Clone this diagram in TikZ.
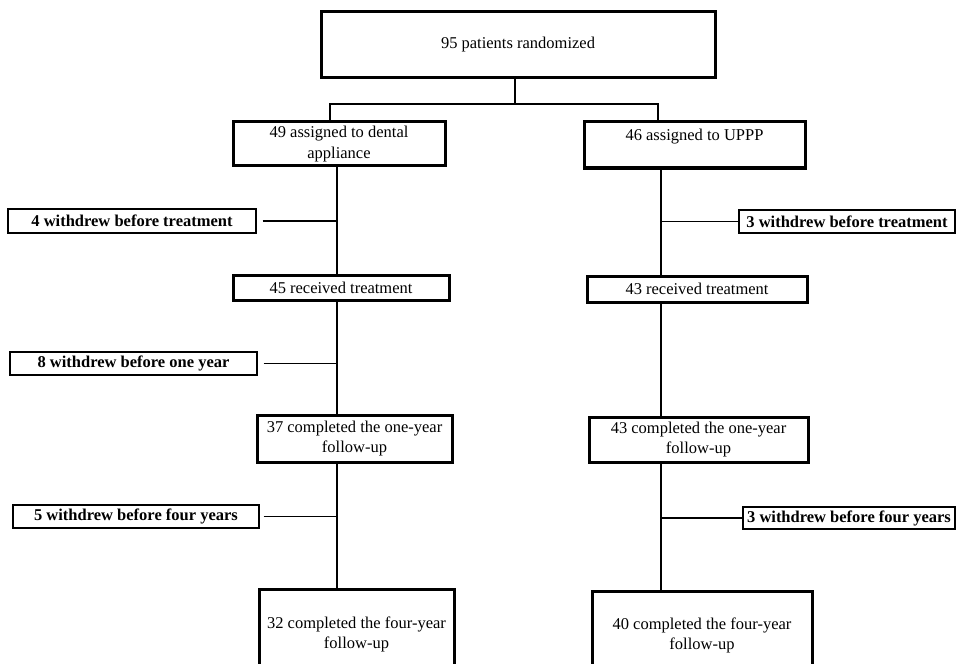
\documentclass[tikz,border=0pt]{standalone}
\usepackage{fontspec}
\setmainfont{Liberation Serif}
\usetikzlibrary{positioning}

\newcommand{\boxfont}{\fontsize{16.5}{20.5}\selectfont}

\tikzset{
  mainbox/.style={draw, line width=3pt, align=center, inner sep=2pt, font=\boxfont},
  sidebox/.style={draw, line width=1.4pt, align=center, inner sep=1pt, font=\boxfont\bfseries},
  link/.style={line width=1.5pt},
}

\begin{document}
\begin{tikzpicture}[x=1pt, y=-1pt]
    \useasboundingbox (0,0) rectangle (957,663);

    % 随机分组
    \node[mainbox, minimum width=394pt, minimum height=66pt] (rand) at (518,45) {95 patients randomized};
    \node[mainbox, minimum width=212pt, minimum height=44pt] (dental) at (339,144) {49 assigned to dental\\appliance};
    \node[mainbox, minimum width=221pt, minimum height=46pt] (uppp) at (694.5,145) {46 assigned to UPPP\\\mbox{}};

    \coordinate (split) at (515,104); % 分叉点
    \coordinate (brL) at (330,104);
    \coordinate (brR) at (658,104);
    \draw[link] (rand.south -| split) -- (split);
    \draw[link] (brL |- dental.north) -- (brL) -- (brR) -- (brR |- uppp.north);

    % 两列的竖线位置
    \coordinate (colL) at (337,0);
    \coordinate (colR) at (661,0);

    % 左列
    \node[mainbox, minimum width=216pt, minimum height=25pt] (recL) at (341,287.5) {45 received treatment};
    \node[mainbox, minimum width=195pt, minimum height=47pt] (oneL) at (354.5,438.5) {37 completed the one-year\\follow-up};
    \node[mainbox, minimum width=195pt, minimum height=91pt] (fourL) at (356.5,634.5) {32 completed the four-year\\follow-up};

    % 右列
    \node[mainbox, minimum width=220pt, minimum height=26pt] (recR) at (697,289) {43 received treatment};
    \node[mainbox, minimum width=219pt, minimum height=45pt] (oneR) at (698.5,439.5) {43 completed the one-year\\follow-up};
    \node[mainbox, minimum width=220pt, minimum height=89pt] (fourR) at (702,635.5) {40 completed the four-year\\follow-up};

    \draw[link] (dental.south -| colL) -- (recL.north -| colL);
    \draw[link] (recL.south -| colL) -- (oneL.north -| colL);
    \draw[link] (oneL.south -| colL) -- (fourL.north -| colL);
    \draw[link] (uppp.south -| colR) -- (recR.north -| colR);
    \draw[link] (recR.south -| colR) -- (oneR.north -| colR);
    \draw[link] (oneR.south -| colR) -- (fourR.north -| colR);

    % 退出的人数
    \node[sidebox, minimum width=248pt, minimum height=24pt] (outL1) at (132,221) {4 withdrew before treatment};
    \node[sidebox, minimum width=247pt, minimum height=23pt] (outL2) at (133.5,363.5) {8 withdrew before one year};
    \node[sidebox, minimum width=246pt, minimum height=23pt] (outL3) at (136,516.5) {5 withdrew before four years};
    \node[sidebox, minimum width=216pt, minimum height=23pt] (outR1) at (847,221.5) {3 withdrew before treatment};
    \node[sidebox, minimum width=212pt, minimum height=22pt] (outR3) at (849,518) {3 withdrew before four years};

    \draw[link] ([xshift=6pt]outL1.east) -- (outL1.east -| colL);
    \draw[link] ([xshift=6pt]outL2.east) -- (outL2.east -| colL);
    \draw[link] ([xshift=4pt]outL3.east) -- (outL3.east -| colL);
    \draw[link] (outR1.west) -- (outR1.west -| colR);
    \draw[link] (outR3.west) -- (outR3.west -| colR);
\end{tikzpicture}
\end{document}
